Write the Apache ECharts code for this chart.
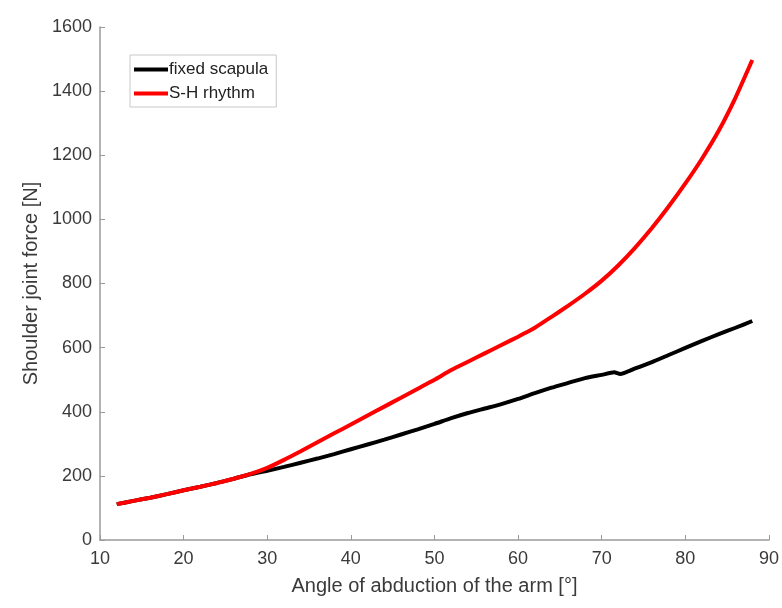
<!DOCTYPE html>
<html>
<head>
<meta charset="utf-8">
<script src="https://cdn.jsdelivr.net/npm/echarts@6/dist/echarts.min.js"></script>
<style>html,body{margin:0;padding:0;background:#fff}#c{width:782px;height:608px}</style>
</head>
<body>
<div id="c"></div>
<script>
const angles = [12,14,16,18,20,22,24,26,28,30,32,34,36,38,40,42,44,46,48,50,52,54,56,58,60,61,62,64,66,68,70,72,74,76,78,80,82,84,86,88];
const shRhythm = [112,122,132,143,155,166,178,191,206,225,250,277,305,333,360,388,416,444,472,500,530,556,582,608,634,648,662,696,731,768,809,857,912,973,1040,1112,1190,1277,1380,1497];

const fixedAngles = [12,14,16,18,20,22,24,26,28,30,32,34,36,38,40,42,44,46,48,50,52,54,56,58,60,62,64,66,68,70,71.5,72.2,74,76,78,80,82,84,86,88];
const fixedScapula = [112,122,132,143,155,166,178,191,205,216,228,241,254,268,283,298,313,329,345,362,380,396,410,424,440,458,475,490,505,515,523,518,535,555,577,599,621,642,662,683];

const seriesNames = ['fixed scapula','S-H rhythm'];
const xTicks = {min:10, max:90, interval:10};
const yTicks = {min:0, max:1600, interval:200};

const pair = (xs, ys) => xs.map((x,i)=>[x, ys[i]]);

const chart = echarts.init(document.getElementById('c'), null, {renderer:'canvas'});
const font = 'Liberation Sans, Arial, sans-serif';
const txt = '#3a3a3a';
chart.setOption({
  animation:false,
  backgroundColor:'#fff',
  grid:{left:100, right:10, top:27, bottom:68},
  legend:{
    orient:'vertical', left:130, top:55,
    data:seriesNames,
    icon:'rect', itemWidth:34, itemHeight:4, itemGap:7,
    borderColor:'#c8c8c8', borderWidth:1, padding:[6,8,5,4],
    textStyle:{fontFamily:font, fontSize:17, color:'#222', padding:[0,0,0,-4]}
  },
  xAxis:{
    type:'value', min:xTicks.min, max:xTicks.max, interval:xTicks.interval,
    name:'Angle of abduction of the arm [°]', nameLocation:'middle', nameGap:36,
    nameTextStyle:{fontFamily:font, fontSize:20, color:txt},
    axisLine:{lineStyle:{color:'#9a9a9a', width:1.5}},
    axisTick:{inside:true, length:5, lineStyle:{color:'#9a9a9a'}},
    axisLabel:{fontFamily:font, fontSize:18, color:txt, margin:10},
    splitLine:{show:false}
  },
  yAxis:{
    type:'value', min:yTicks.min, max:yTicks.max, interval:yTicks.interval,
    name:'Shoulder joint force [N]', nameLocation:'middle', nameGap:45, nameRotate:90,
    nameTextStyle:{fontFamily:font, fontSize:20, color:txt},
    axisLine:{show:true, lineStyle:{color:'#9a9a9a', width:1.5}},
    axisTick:{show:true, inside:true, length:5, lineStyle:{color:'#9a9a9a'}},
    axisLabel:{fontFamily:font, fontSize:18, color:txt, margin:8, formatter:v=>String(v)},
    splitLine:{show:false}
  },
  series:[
    {name:seriesNames[0], type:'line', data:pair(fixedAngles, fixedScapula), showSymbol:false, smooth:0.2,
     lineStyle:{color:'#000', width:4}, itemStyle:{color:'#000'}},
    {name:seriesNames[1], type:'line', data:pair(angles, shRhythm), showSymbol:false, smooth:0.2,
     lineStyle:{color:'#ff0000', width:4}, itemStyle:{color:'#ff0000'}}
  ]
});
</script>
</body>
</html>
